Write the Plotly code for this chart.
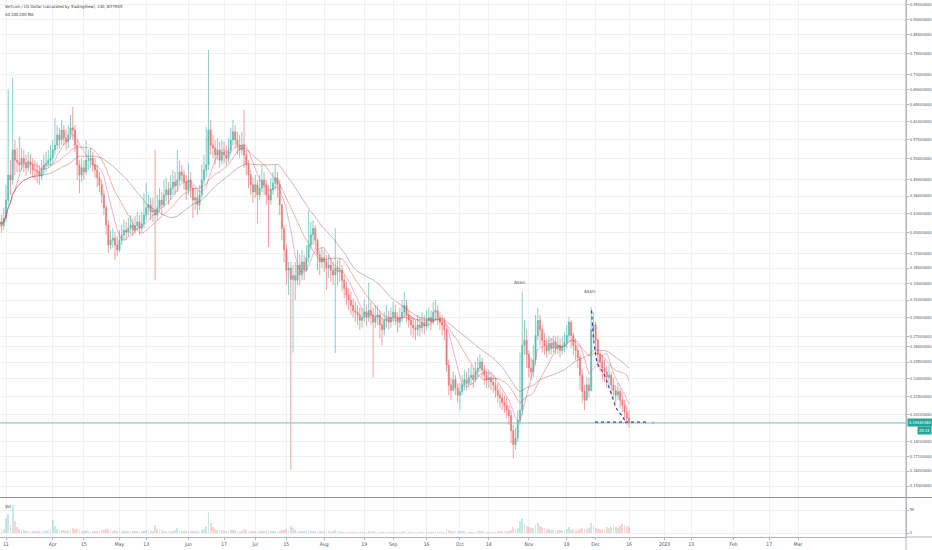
import math
import pandas as pd
import plotly.graph_objects as go

# ---------------- data (one candle per day) ----------------
start_date = "2019-03-08"
first_open = 0.407

closes = [
    .417, .411, .423, .453, .498, .489, .548, .527, .523, .518,
    .531, .521, .512, .523, .518, .508, .508, .504, .496, .508,
    .518, .521, .527, .531, .548, .558, .580, .569, .591, .573,
    .565, .580, .596, .591, .558, .518, .498, .512, .504, .527,
    .527, .531, .518, .508, .493, .480, .462, .440, .412, .382,
    .389, .392, .382, .375, .389, .397, .404, .401, .407, .412,
    .404, .411, .417, .407, .414, .428, .440, .445, .433, .436,
    .428, .440, .453, .445, .462, .471, .462, .474, .485, .478,
    .489, .504, .498, .485, .471, .489, .474, .453, .457, .445,
    .462, .489, .508, .518, .591, .558, .552, .538, .548, .527,
    .544, .538, .531, .548, .569, .587, .569, .558, .548, .558,
    .538, .518, .498, .480, .467, .480, .462, .474, .489, .480,
    .462, .453, .471, .483, .493, .480, .445, .407, .375, .347,
    .350, .335, .340, .334, .354, .341, .358, .347, .364, .382,
    .397, .407, .389, .368, .358, .364, .358, .350, .354, .347,
    .341, .350, .345, .347, .334, .324, .316, .310, .304, .298,
    .296, .293, .287, .290, .296, .290, .298, .293, .285, .290,
    .293, .282, .277, .287, .290, .285, .290, .296, .290, .285,
    .290, .296, .304, .293, .287, .282, .279, .277, .282, .279,
    .285, .281, .287, .290, .285, .296, .298, .290, .285, .282,
    .277, .242, .2245, .220, .229, .222, .216, .219, .2245, .229,
    .226, .231, .233, .229, .236, .2395, .245, .238, .233, .229,
    .231, .227, .2245, .220, .216, .214, .210, .208, .204, .200,
    .189, .179, .1835, .1966, .204, .261, .266, .252, .2395, .236,
    .247, .271, .287, .277, .266, .261, .256, .263, .258, .264,
    .258, .261, .256, .260, .264, .271, .285, .271, .261, .256,
    .249, .233, .219, .212, .2245, .220, .277, .282, .266, .252,
    .245, .2395, .236, .231, .233, .2245, .220, .216, .219, .212,
    .208, .2027, .198, .19440383,
]

highs = [
    .433, .428, .440, .480, .688, .527, .720, .569, .552, .576,
    .552, .548, .538, .544, .540, .531, .527, .523, .518, .527,
    .538, .544, .548, .558, .569, .619, .602, .596, .614, .602,
    .591, .602, .626, .645, .602, .569, .527, .531, .527, .569,
    .548, .552, .544, .531, .518, .504, .489, .471, .445, .420,
    .404, .407, .401, .395, .404, .412, .420, .417, .423, .428,
    .423, .426, .433, .428, .433, .465, .483, .462, .457, .457,
    .548, .462, .474, .467, .489, .493, .485, .498, .508, .504,
    .548, .527, .518, .508, .498, .521, .504, .480, .474, .471,
    .480, .518, .538, .598, .801, .614, .580, .569, .573, .565,
    .569, .565, .558, .573, .596, .614, .602, .587, .580, .587,
    .638, .548, .527, .508, .493, .498, .489, .498, .518, .504,
    .489, .480, .493, .504, .518, .504, .489, .445, .412, .382,
    .358, .358, .354, .358, .375, .368, .375, .368, .382, .436,
    .417, .420, .412, .392, .375, .378, .375, .368, .368, .364,
    .358, .407, .361, .364, .354, .341, .332, .324, .320, .312,
    .308, .304, .301, .301, .310, .304, .331, .308, .301, .304,
    .304, .298, .290, .296, .304, .298, .301, .308, .304, .296,
    .301, .310, .320, .310, .298, .293, .290, .287, .293, .290,
    .296, .293, .298, .301, .298, .308, .310, .304, .296, .293,
    .290, .279, .247, .231, .236, .233, .226, .226, .233, .238,
    .236, .2395, .242, .2395, .245, .249, .252, .249, .242, .238,
    .238, .236, .233, .231, .226, .222, .219, .216, .214, .208,
    .204, .193, .191, .204, .254, .320, .287, .277, .256, .249,
    .261, .293, .301, .293, .282, .274, .268, .271, .268, .271,
    .270, .271, .268, .270, .274, .282, .291, .287, .274, .268,
    .261, .252, .238, .2245, .231, .231, .302, .296, .285, .268,
    .256, .252, .247, .242, .242, .236, .231, .2245, .226, .222,
    .218, .212, .208, .204,
]

lows = [
    .401, .400, .404, .417, .445, .462, .480, .498, .504, .504,
    .508, .504, .496, .504, .500, .493, .489, .483, .480, .489,
    .498, .504, .512, .516, .523, .538, .548, .552, .558, .558,
    .548, .552, .569, .569, .544, .489, .465, .485, .489, .498,
    .508, .512, .504, .493, .476, .467, .448, .428, .397, .371,
    .375, .378, .361, .366, .372, .382, .389, .389, .395, .398,
    .395, .398, .404, .397, .401, .407, .420, .428, .420, .417,
    .334, .420, .433, .428, .440, .450, .445, .453, .462, .462,
    .467, .480, .485, .471, .453, .462, .457, .423, .436, .428,
    .436, .457, .480, .493, .508, .538, .531, .518, .527, .512,
    .518, .521, .516, .523, .538, .558, .552, .538, .531, .538,
    .512, .498, .474, .462, .448, .457, .415, .453, .467, .462,
    .445, .379, .445, .462, .471, .457, .428, .389, .358, .328,
    .316, .1626, .254, .310, .328, .328, .334, .334, .345, .358,
    .375, .382, .375, .347, .341, .350, .345, .322, .337, .332,
    .328, .2535, .328, .332, .320, .312, .304, .298, .293, .290,
    .285, .282, .277, .279, .285, .281, .285, .282, .231, .279,
    .282, .268, .261, .271, .279, .277, .279, .285, .282, .274,
    .279, .285, .290, .285, .279, .271, .269, .266, .271, .270,
    .274, .272, .277, .279, .277, .282, .287, .282, .277, .271,
    .266, .236, .216, .212, .219, .216, .210, .204, .216, .220,
    .220, .222, .2245, .222, .227, .231, .236, .231, .2245, .222,
    .222, .220, .218, .214, .210, .206, .204, .202, .198, .193,
    .180, .170, .1755, .181, .193, .200, .252, .2395, .231, .229,
    .231, .242, .266, .261, .254, .252, .249, .252, .252, .254,
    .252, .2525, .249, .252, .254, .258, .266, .258, .252, .247,
    .2395, .220, .210, .204, .212, .214, .219, .266, .254, .2395,
    .236, .229, .227, .222, .2245, .216, .214, .2096, .212, .206,
    .2027, .198, .193, .191,
]

volumes = [
    500, 600, 900, 3200, 4200, 1800, 6000, 2500, 1200, 800,
    700, 600, 500, 500, 450, 400, 450, 400, 380, 420,
    450, 500, 600, 900, 2800, 1500, 800, 600, 700, 650,
    500, 550, 700, 1100, 800, 900, 700, 500, 450, 600,
    450, 400, 380, 400, 450, 500, 600, 700, 900, 800,
    600, 500, 550, 450, 400, 380, 350, 360, 340, 330,
    350, 340, 320, 330, 360, 500, 600, 450, 420, 500,
    1700, 900, 700, 600, 500, 450, 420, 400, 450, 600,
    1100, 700, 500, 450, 420, 450, 400, 500, 450, 400,
    450, 600, 800, 1500, 4600, 2200, 1200, 900, 700, 600,
    550, 500, 480, 500, 600, 700, 600, 500, 450, 480,
    800, 600, 500, 480, 450, 420, 500, 420, 400, 380,
    400, 600, 450, 400, 380, 420, 500, 600, 700, 800,
    700, 1500, 1000, 600, 500, 450, 420, 400, 380, 600,
    450, 400, 380, 360, 350, 340, 330, 340, 320, 310,
    320, 700, 350, 320, 300, 310, 300, 290, 280, 300,
    290, 280, 270, 280, 290, 280, 400, 300, 500, 300,
    280, 270, 300, 280, 270, 260, 270, 260, 250, 260,
    270, 280, 450, 300, 270, 260, 250, 260, 250, 240,
    250, 260, 270, 260, 250, 280, 350, 280, 260, 270,
    300, 800, 600, 450, 400, 350, 380, 420, 350, 320,
    300, 310, 290, 300, 310, 320, 400, 330, 300, 290,
    280, 290, 300, 310, 320, 330, 340, 350, 380, 420,
    700, 1200, 900, 1000, 2500, 3200, 2000, 1500, 1200, 1000,
    1100, 1800, 2200, 1500, 1200, 1000, 900, 800, 750, 700,
    650, 600, 700, 650, 600, 800, 1300, 900, 700, 650,
    700, 900, 1100, 900, 800, 1000, 2200, 1500, 1100, 900,
    800, 750, 900, 1200, 1000, 1400, 1800, 1300, 1100, 1600,
    2000, 1800, 1500, 1200,
]

ma_periods_4h = [50, 100, 200]          # on 4h candles -> 6 candles per day
ma_colors = ["rgba(236,64,122,0.45)", "rgba(229,57,53,0.45)", "rgba(150,70,90,0.45)"]

price_ticks = [0.95, 0.90, 0.85, 0.79, 0.73, 0.69, 0.65, 0.61, 0.57, 0.53, 0.49,
               0.46, 0.43, 0.40, 0.37, 0.35, 0.33, 0.31, 0.29, 0.27, 0.26, 0.245,
               0.23, 0.215, 0.201, 0.181, 0.171, 0.162, 0.153]
price_tick_labels = ["%.8f" % v for v in price_ticks]

date_ticks = ["2019-03-11", "2019-04-01", "2019-04-15", "2019-05-01", "2019-05-13",
              "2019-06-01", "2019-06-17", "2019-07-01", "2019-07-15", "2019-08-01",
              "2019-08-19", "2019-09-01", "2019-09-16", "2019-10-01", "2019-10-14",
              "2019-11-01", "2019-11-18", "2019-12-01", "2019-12-16", "2020-01-01",
              "2020-01-13", "2020-02-01", "2020-02-17", "2020-03-01"]
date_tick_labels = ["11", "Apr", "15", "May", "13", "Jun", "17", "Jul", "15", "Aug",
                    "19", "Sep", "16", "Oct", "14", "Nov", "18", "Dec", "16", "2020",
                    "13", "Feb", "17", "Mar"]

x_range = ["2019-03-08 07:17", "2020-04-18 11:45"]
price_range = [0.1468, 0.968]
vol_ticks = [0, 5000]
vol_tick_labels = ["0", "5K"]
vol_range = [-870, 7609]

last_price = 0.19440383
countdown = "25:14"

# user drawings
curve_dates = ["2019-11-29 04:00", "2019-11-30 00:00", "2019-11-30 20:00", "2019-12-02 00:00",
               "2019-12-04 06:00", "2019-12-06 00:00", "2019-12-08 06:00", "2019-12-10 12:00",
               "2019-12-12 18:00", "2019-12-14 04:00"]
curve_prices = [0.298, 0.270, 0.254, 0.243, 0.236, 0.228, 0.216, 0.205, 0.200, 0.196]
hline_dates = ["2019-11-30 17:00", "2019-12-24 12:00"]
hline_prices = [0.195, 0.195]
adam_dates = ["2019-10-28 00:00", "2019-11-28 12:00"]
adam_prices = [0.331, 0.320]
adam_labels = ["Adam", "Adam"]

title_text = "Vertcoin / US Dollar (calculated by TradingView), 240, BITTREX"
ma_text = "50,100,200 MA"

# ---------------- build ----------------
UP = "#26a69a"
GRID = "#eef1f6"
AXIS = "#b2b5be"
TXT = "#50535e"
FONT = "Liberation Sans Narrow, DejaVu Sans Condensed, Arial Narrow, sans-serif"

dates = pd.date_range(start_date, periods=len(closes), freq="D")
opens = [first_open] + closes[:-1]
s_close = pd.Series(closes, index=dates)

fig = go.Figure()

fig.add_trace(go.Candlestick(
    x=dates, open=opens, high=highs, low=lows, close=closes,
    increasing=dict(line=dict(color="#3fb0a4", width=0.7), fillcolor="#3fb0a4"),
    decreasing=dict(line=dict(color="#e8625f", width=0.7), fillcolor="#e8625f"),
    whiskerwidth=0, opacity=0.85, hoverinfo="skip", xaxis="x", yaxis="y"))

for p, c in zip(ma_periods_4h, ma_colors):
    w = max(1, round(p / 6))
    ma = s_close.rolling(w, min_periods=1).mean()
    fig.add_trace(go.Scatter(x=dates, y=ma.values, mode="lines",
                             line=dict(color=c, width=0.9), hoverinfo="skip",
                             xaxis="x", yaxis="y"))

# last price line
fig.add_trace(go.Scatter(x=x_range, y=[last_price, last_price], mode="lines",
                         line=dict(color="#6cc3b8", width=1), hoverinfo="skip",
                         xaxis="x", yaxis="y"))

# drawings
fig.add_trace(go.Scatter(x=curve_dates, y=curve_prices, mode="lines",
                         line=dict(color="#2f45a8", width=1.2, dash="dot", shape="spline"),
                         hoverinfo="skip", xaxis="x", yaxis="y"))
fig.add_trace(go.Scatter(x=hline_dates, y=hline_prices, mode="lines",
                         line=dict(color="#2f45a8", width=1.2, dash="dot"),
                         hoverinfo="skip", xaxis="x", yaxis="y"))

# volume
vol_colors = ["rgba(38,166,154,0.25)" if c >= o else "rgba(239,83,80,0.25)"
              for o, c in zip(opens, closes)]
fig.add_trace(go.Bar(x=dates, y=volumes, marker=dict(color=vol_colors, line=dict(width=0)),
                     width=86400000 * 0.8, hoverinfo="skip", xaxis="x", yaxis="y2"))

H = 550
B = 13
plot_h = H - B
sep_y = (plot_h - 497.5) / plot_h

annotations = [
    dict(xref="paper", yref="paper", x=0, y=1, xanchor="left", yanchor="top",
         xshift=3, yshift=-2, text=title_text, showarrow=False,
         font=dict(size=4.2, color="#333333", family=FONT)),
    dict(xref="paper", yref="paper", x=0, y=1, xanchor="left", yanchor="top",
         xshift=3, yshift=-10, text=ma_text, showarrow=False,
         font=dict(size=4.2, color="#333333", family=FONT)),
    dict(xref="paper", yref="paper", x=0, y=(plot_h - 506) / plot_h, xanchor="left",
         yanchor="middle", xshift=3, text="Vol", showarrow=False,
         font=dict(size=4.4, color="#333333", family=FONT)),
    dict(xref="paper", yref="y", x=1, y=math.log10(last_price), xanchor="left",
         yanchor="middle", xshift=1, text="%.8f" % last_price, showarrow=False,
         bgcolor=UP, borderpad=1, font=dict(size=4.0, color="white", family=FONT)),
    dict(xref="paper", yref="y", x=1 + 26 / 906, y=math.log10(last_price), xanchor="right",
         yanchor="middle", yshift=-8, text=countdown, showarrow=False,
         bgcolor=UP, borderpad=1, font=dict(size=4.0, color="white", family=FONT)),
    dict(xref="x", yref="y", x="2019-12-27", y=math.log10(hline_prices[1]), xanchor="center",
         yanchor="middle", text="0", showarrow=False,
         font=dict(size=4.2, color="#8a8d96", family=FONT)),
]
for d, p, t in zip(adam_dates, adam_prices, adam_labels):
    annotations.append(dict(xref="x", yref="y", x=d, y=math.log10(p), text=t,
                            showarrow=False, xanchor="center", yanchor="middle",
                            font=dict(size=4.4, color="#555555", family=FONT)))

shapes = [
    dict(type="line", xref="paper", yref="paper", x0=0, x1=1 + 26 / 906, y0=sep_y, y1=sep_y,
         line=dict(color="#8f929b", width=1)),
    dict(type="line", xref="paper", yref="paper", x0=1, x1=1 + 26 / 906, y0=0, y1=0,
         line=dict(color=AXIS, width=1)),
    dict(type="line", xref="paper", yref="paper", x0=1, x1=1, y0=-B / plot_h, y1=1,
         line=dict(color=AXIS, width=1)),
]

fig.update_layout(
    width=932, height=H,
    margin=dict(l=0, r=26, t=0, b=B, pad=0, autoexpand=False),
    paper_bgcolor="white", plot_bgcolor="white",
    showlegend=False, bargap=0,
    font=dict(family=FONT, size=5, color=TXT),
    xaxis=dict(type="date", range=x_range, tickvals=date_ticks, ticktext=date_tick_labels,
               showgrid=True, gridcolor=GRID, gridwidth=1, zeroline=False,
               showline=True, linecolor=AXIS, linewidth=1, ticks="outside", ticklen=2,
               tickcolor=AXIS, tickfont=dict(size=5, color=TXT, family=FONT),
               anchor="y2", rangeslider=dict(visible=False), fixedrange=True),
    yaxis=dict(type="log", domain=[sep_y + 0.001, 1], side="right",
               range=[math.log10(price_range[0]), math.log10(price_range[1])],
               tickvals=price_ticks, ticktext=price_tick_labels,
               showgrid=True, gridcolor=GRID, gridwidth=1, zeroline=False,
               showline=True, linecolor=AXIS, ticks="outside", ticklen=2, tickcolor=AXIS,
               tickfont=dict(size=4.0, color=TXT, family=FONT), anchor="x", fixedrange=True),
    yaxis2=dict(domain=[0, sep_y - 0.001], side="right", range=vol_range,
                tickvals=vol_ticks, ticktext=vol_tick_labels,
                showgrid=True, gridcolor=GRID, zeroline=False,
                showline=True, linecolor=AXIS, ticks="outside", ticklen=2, tickcolor=AXIS,
                tickfont=dict(size=4.0, color=TXT, family=FONT), anchor="x", fixedrange=True),
    annotations=annotations,
    shapes=shapes,
)

fig.write_html("out.html", config={"displayModeBar": False},
               post_script="document.body.style.margin='0';document.body.style.overflow='hidden';")
